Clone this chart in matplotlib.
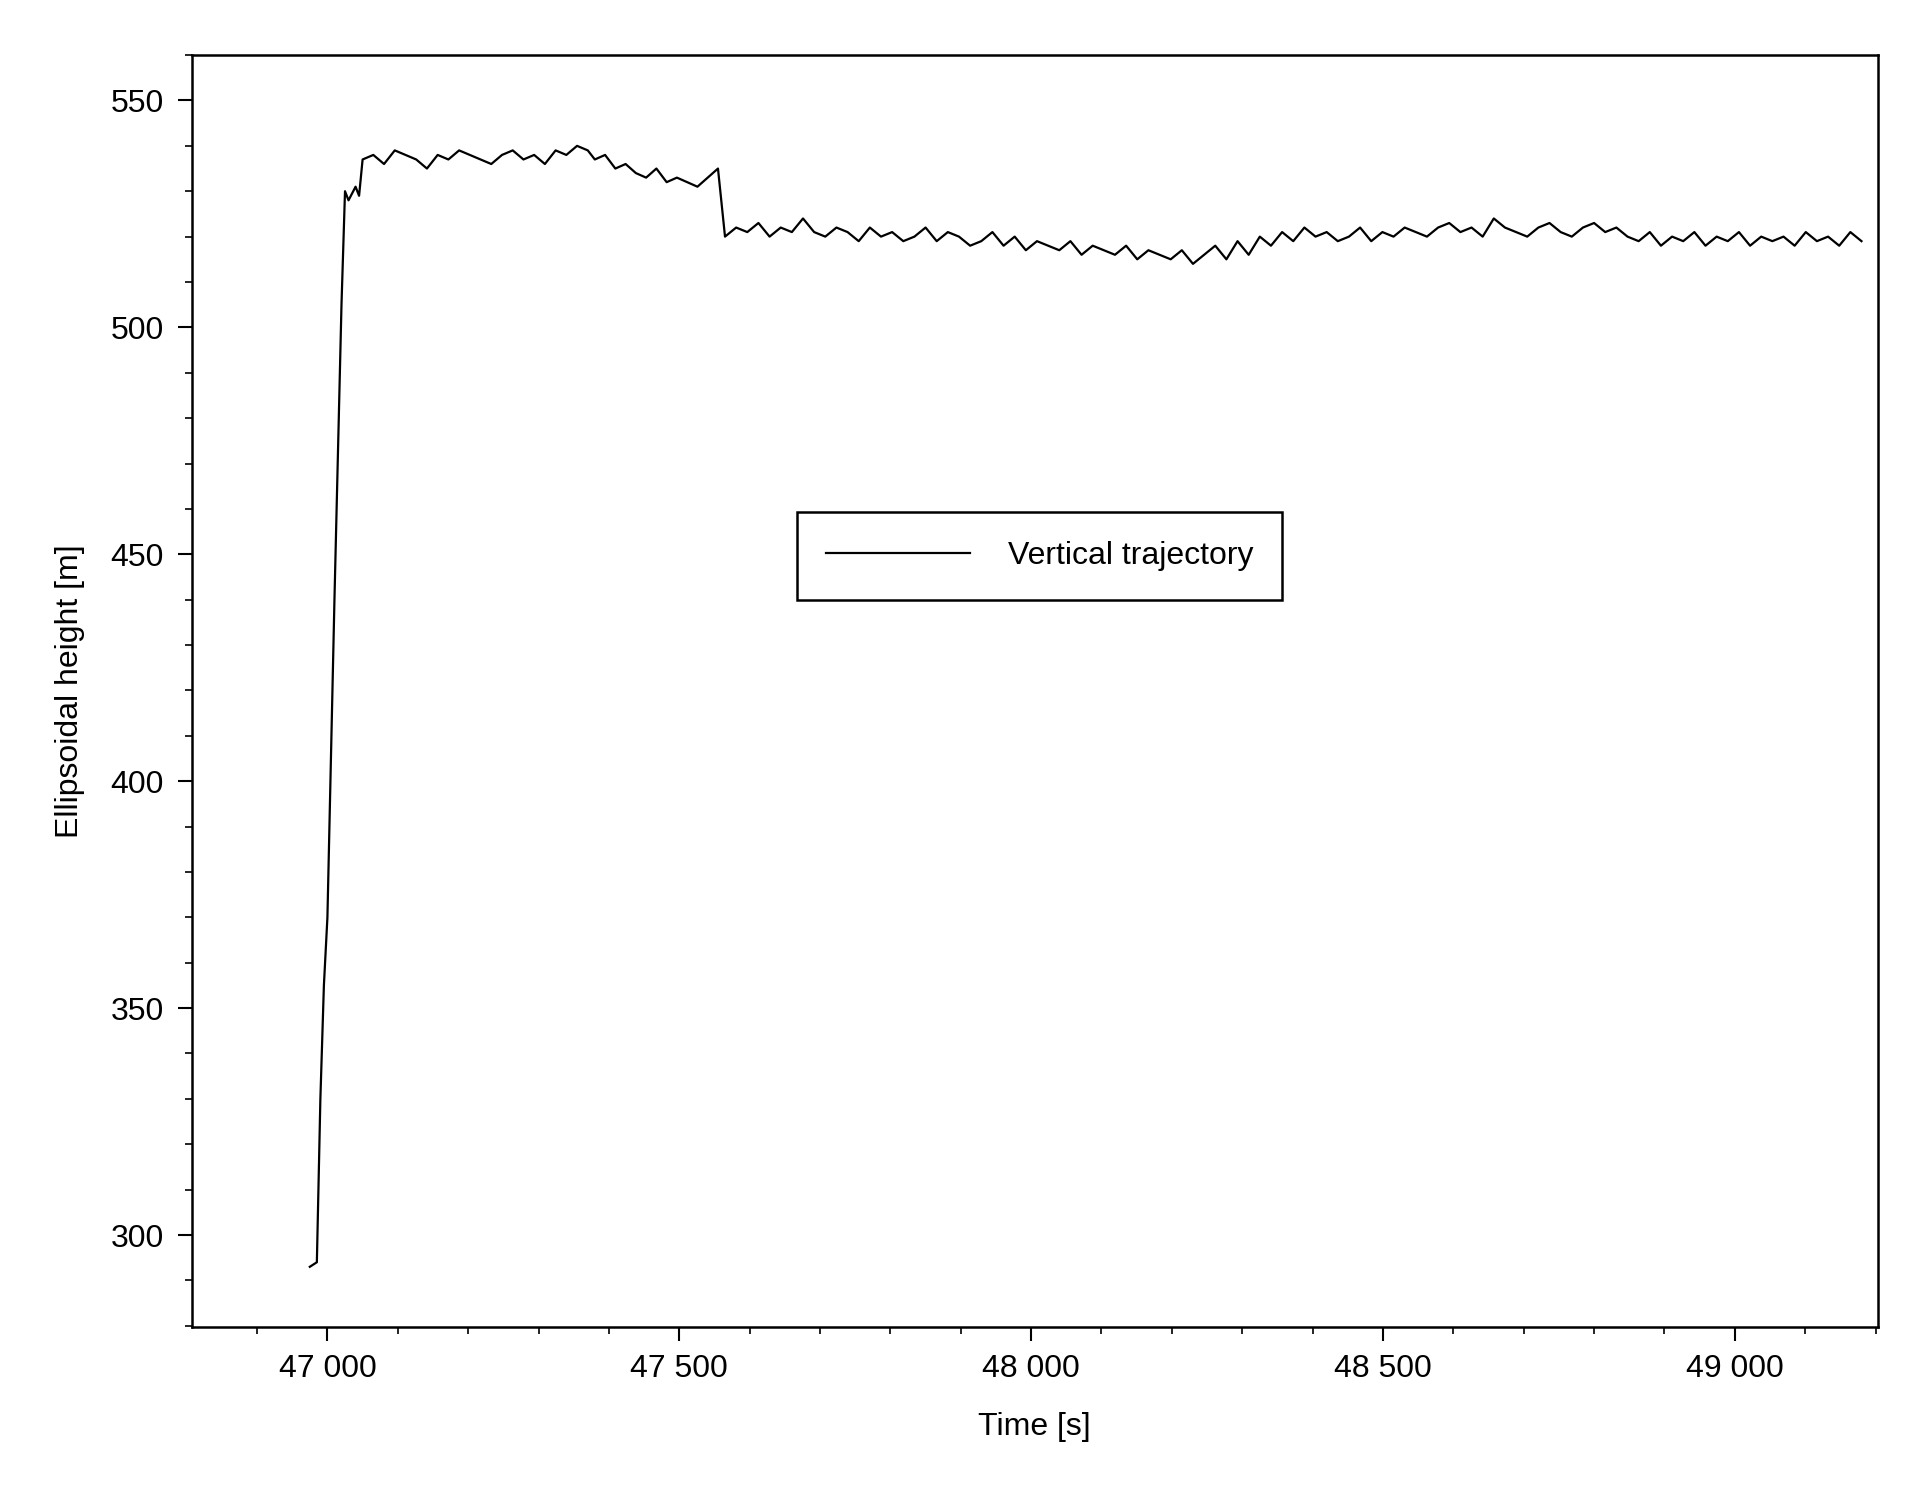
import numpy as np
import matplotlib.pyplot as plt

plt.rcParams['font.family'] = ['Liberation Sans', 'DejaVu Sans']

# climb at the start
t_head = [46975, 46985, 46990, 46995, 47000, 47010, 47020, 47025, 47030, 47040, 47045]
h_head = [293, 294, 330, 355, 370, 440, 505, 530, 528, 531, 529]

# plateau
h_plat = [537, 538, 536, 539, 538, 537, 535, 538, 537, 539, 538, 537, 536, 538,
          539, 537, 538, 536, 539, 538, 540, 539]
# slow decline before drop
h_decl = [537, 538, 535, 536, 534, 533, 535, 532, 533, 532, 531, 533, 535]
# after the drop
h_tail = [520, 522, 521, 523, 520, 522, 521, 524, 521, 520, 522, 521, 519, 522,
          520, 521, 519, 520, 522, 519, 521, 520, 518, 519, 521, 518, 520, 517,
          519, 518, 517, 519, 516, 518, 517, 516, 518, 515, 517, 516, 515, 517,
          514, 516, 518, 515, 519, 516, 520, 518, 521, 519, 522, 520, 521, 519,
          520, 522, 519, 521, 520, 522, 521, 520, 522, 523, 521, 522, 520, 524,
          522, 521, 520, 522, 523, 521, 520, 522, 523, 521, 522, 520, 519, 521,
          518, 520, 519, 521, 518, 520, 519, 521, 518, 520, 519, 520, 518, 521,
          519, 520, 518, 521, 519]

t = np.concatenate([t_head,
                    np.linspace(47050, 47370, len(h_plat)),
                    np.linspace(47380, 47555, len(h_decl)),
                    np.linspace(47565, 49180, len(h_tail))])
h = np.concatenate([h_head, h_plat, h_decl, h_tail])

fig = plt.figure(figsize=(19.16, 14.89), dpi=100)
ax = fig.add_axes([0.1, 0.109, 0.88, 0.854])
ax.plot(t, h, color='black', linewidth=1.6, label='Vertical trajectory')
ax.set_xlim(46807, 49203)
ax.set_ylim(279.8, 560)
ax.set_xticks([47000, 47500, 48000, 48500, 49000])
ax.set_xticklabels(['47 000', '47 500', '48 000', '48 500', '49 000'])
ax.set_xticks(np.arange(46900, 49201, 100), minor=True)
ax.set_yticks([300, 350, 400, 450, 500, 550])
ax.set_yticks(np.arange(280, 561, 10), minor=True)
ax.tick_params(which='major', length=10, width=1.5, labelsize=23, direction='out', pad=10)
ax.tick_params(which='minor', length=5, width=1.2, direction='out')
for s in ax.spines.values():
    s.set_linewidth(1.8)
ax.set_xlabel('Time [s]', fontsize=23, labelpad=20)
ax.set_ylabel('Ellipsoidal height [m]', fontsize=23, labelpad=18)
leg = ax.legend(loc='center', bbox_to_anchor=(0.503, 0.606), fontsize=23,
                fancybox=False, framealpha=1, edgecolor='black',
                borderpad=0.9, handlelength=4.5, handletextpad=1.2)
leg.get_frame().set_linewidth(1.8)
fig.savefig('out.png', dpi=100)
